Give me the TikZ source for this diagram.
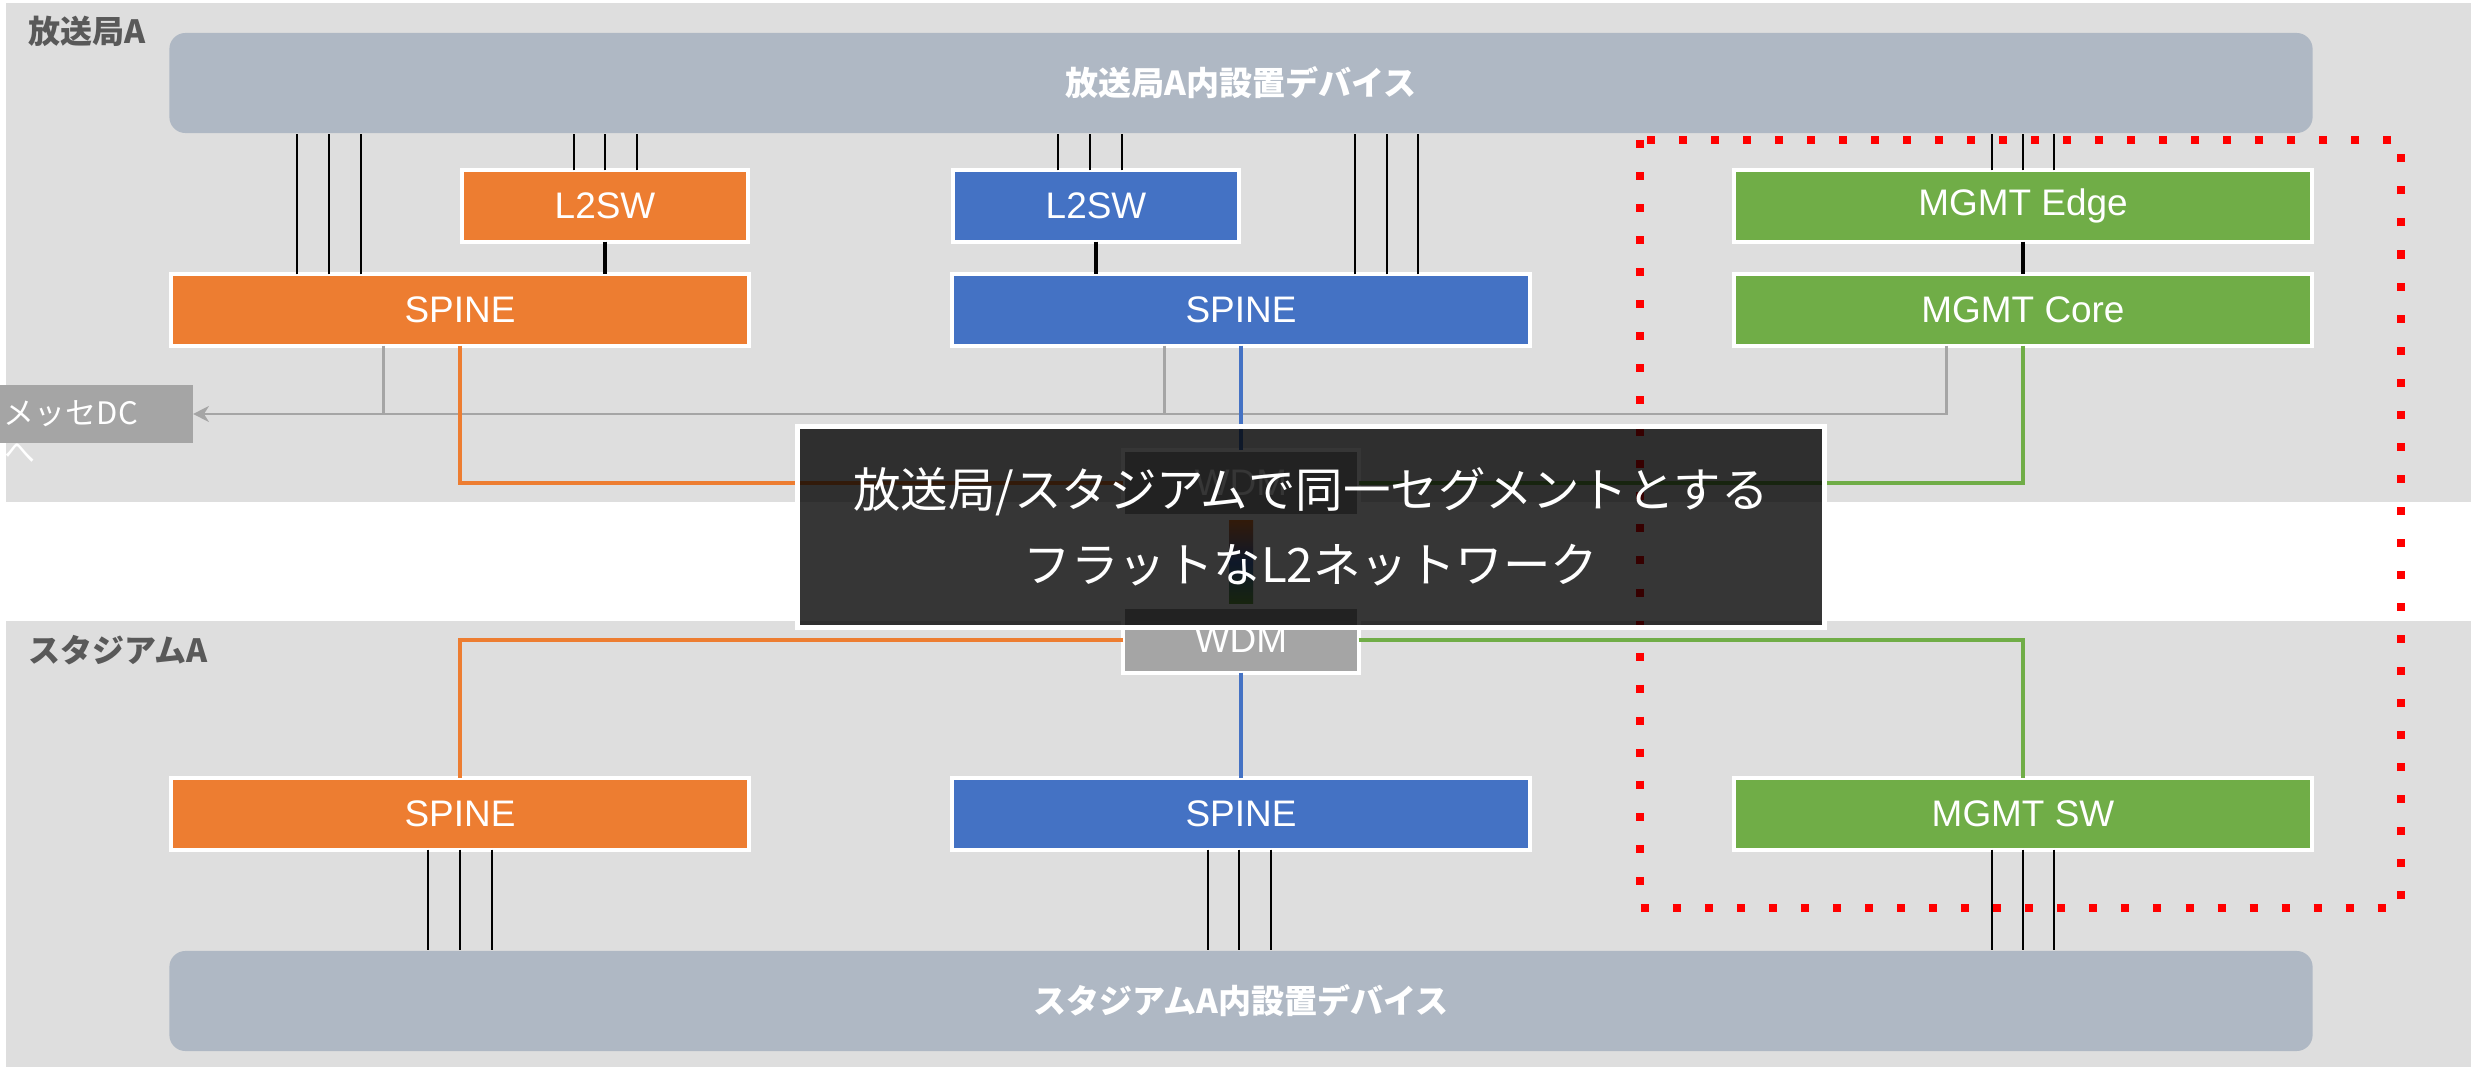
\documentclass[tikz,border=0pt]{standalone}
\usepackage{fontspec}
\setmainfont{Liberation Sans}
\newfontfamily\jpfont{Noto Sans CJK JP}
\usetikzlibrary{arrows.meta}
\definecolor{panelgray}{HTML}{DEDEDE}
\definecolor{devgray}{HTML}{AFB8C4}
\definecolor{wdmgray}{HTML}{A5A5A5}
\definecolor{labelgray}{HTML}{595959}
\definecolor{netorange}{HTML}{ED7D31}
\definecolor{netblue}{HTML}{4472C4}
\definecolor{netgreen}{HTML}{70AD47}

\begin{document}
\begin{tikzpicture}[x=0.01cm,y=-0.01cm]
	\tikzstyle{sw}=[draw=white,line width=1.14pt,inner sep=0pt,outer sep=0pt,minimum height=0.71cm,text=white,font=\fontsize{10.5}{12}\selectfont]
	\tikzstyle{wide}=[sw,minimum width=5.78cm]
	\tikzstyle{half}=[sw,minimum width=2.86cm]
	\tikzstyle{wdm}=[sw,fill=wdmgray,minimum width=2.35cm,minimum height=0.65cm]
	\tikzstyle{devbar}=[fill=devgray,rounded corners=0.16cm,minimum width=21.42cm,minimum height=1cm,inner sep=0pt,text=white,font=\jpfont\bfseries\fontsize{9.4}{11}\selectfont]
	\tikzstyle{site}=[anchor=west,inner sep=0pt,text=labelgray,font=\jpfont\bfseries\fontsize{9.1}{11}\selectfont]
	\tikzstyle{notebox}=[fill=black,fill opacity=0.79,text opacity=1,draw=white,draw opacity=1,line width=1.42pt,minimum width=10.27cm,minimum height=2.01cm,inner sep=0pt,align=center,text=white,font=\jpfont\fontsize{13.5}{21.5}\selectfont]
	\tikzstyle{link}=[line width=0.57pt]
	\tikzstyle{trunk}=[line width=1.3pt]
	\tikzstyle{fiber}=[line width=1pt]
	\tikzstyle{uplink}=[line width=0.85pt,wdmgray]
	\useasboundingbox (0,0) rectangle (2471,1067);
	% sites
	\fill[panelgray] (6,3) rectangle (2471,502);
	\fill[panelgray] (6,621) rectangle (2471,1067);
	\node[site] (siteA) at (28,31) {放送局A};
	\node[site] (siteS) at (28,650) {スタジアムA};
	\node[devbar] (devA) at (1241,83) {放送局A内設置デバイス};
	\node[devbar] (devS) at (1241,1001) {スタジアムA内設置デバイス};

	% switches
	\node[half,fill=netorange] (l2o) at (605,206) {L2SW};
	\node[half,fill=netblue] (l2b) at (1096,206) {L2SW};
	\node[wide,fill=netgreen] (mge) at (2023,206) {MGMT Edge};
	\node[wide,fill=netorange] (spoA) at (460,310) {SPINE};
	\node[wide,fill=netblue] (spbA) at (1241,310) {SPINE};
	\node[wide,fill=netgreen] (mgc) at (2023,310) {MGMT Core};
	\node[wide,fill=netorange] (spoS) at (460,814) {SPINE};
	\node[wide,fill=netblue] (spbS) at (1241,814) {SPINE};
	\node[wide,fill=netgreen] (mgsw) at (2023,814) {MGMT SW};
	\node[wdm] (wdmA) at (1241,483) {WDM};
	\node[wdm] (wdmB) at (1241,640) {WDM};
	\node[fill=wdmgray,text=white,inner xsep=0.04cm,inner ysep=0pt,outer sep=0pt,text width=1.85cm,minimum height=0.58cm,align=left,font=\jpfont\fontsize{8.8}{10}\selectfont] (msse) at (96.5,414) {メッセDC};
	\node[anchor=west,inner sep=0pt,text=white,font=\jpfont\fontsize{8.8}{10}\selectfont] (msseTo) at (4,453) {へ};

	% device links
	\foreach \dx in {-1.63,-1.31,-0.99} \draw[link] ([xshift=\dx cm]spoA.north) -- ([xshift=\dx cm]spoA.north |- devA.south);
	\foreach \dx in {-0.31,0,0.32} \draw[link] ([xshift=\dx cm]l2o.north) -- ([xshift=\dx cm]l2o.north |- devA.south);
	\foreach \dx in {-0.38,-0.06,0.26} \draw[link] ([xshift=\dx cm]l2b.north) -- ([xshift=\dx cm]l2b.north |- devA.south);
	\foreach \dx in {1.14,1.46,1.77} \draw[link] ([xshift=\dx cm]spbA.north) -- ([xshift=\dx cm]spbA.north |- devA.south);
	\foreach \dx in {-0.31,0,0.31} \draw[link] ([xshift=\dx cm]mge.north) -- ([xshift=\dx cm]mge.north |- devA.south);
	\foreach \dx in {-0.32,0,0.32} \draw[link] ([xshift=\dx cm]spoS.south) -- ([xshift=\dx cm]spoS.south |- devS.north);
	\foreach \dx in {-0.33,-0.02,0.30} \draw[link] ([xshift=\dx cm]spbS.south) -- ([xshift=\dx cm]spbS.south |- devS.north);
	\foreach \dx in {-0.31,0,0.31} \draw[link] ([xshift=\dx cm]mgsw.south) -- ([xshift=\dx cm]mgsw.south |- devS.north);
	\draw[trunk] (l2o.south) -- (l2o.south |- spoA.north);
	\draw[trunk] (l2b.south) -- (l2b.south |- spbA.north);
	\draw[trunk] (mge.south) -- (mgc.north);

	% to messe DC
	\coordinate (tapO) at ([xshift=-0.76cm]spoA.south);
	\coordinate (tapB) at ([xshift=-0.76cm]spbA.south);
	\coordinate (tapM) at ([xshift=-0.76cm]mgc.south);
	\draw[uplink,-{Stealth[length=4.5pt,width=4.5pt,inset=1.4pt]}] (tapM) |- (msse.east);
	\draw[uplink] (tapO) -- (tapO |- msse.east);
	\draw[uplink] (tapB) -- (tapB |- msse.east);

	% fibers over WDM
	\draw[fiber,netorange] (spoA.south) |- (wdmA.west);
	\draw[fiber,netblue] (spbA.south) -- (wdmA.north);
	\draw[fiber,netgreen] (mgc.south) |- (wdmA.east);
	\draw[fiber,netorange] (wdmB.west) -| (spoS.north);
	\draw[fiber,netblue] (wdmB.south) -- (spbS.north);
	\draw[fiber,netgreen] (wdmB.east) -| (mgsw.north);
	\shade[top color=netorange,bottom color=netgreen,middle color=netblue] ([xshift=-0.12cm,yshift=-0.05cm]wdmA.south) rectangle ([xshift=0.12cm,yshift=0.04cm]wdmB.north);

	\draw[red,line width=2.28pt,dash pattern=on 2.28pt off 6.83pt] (1640,140) rectangle (2401,908);

	\node[notebox] (note) at (1311,527) {放送局/スタジアムで同一セグメントとする\\フラットなL2ネットワーク};
\end{tikzpicture}
\end{document}
